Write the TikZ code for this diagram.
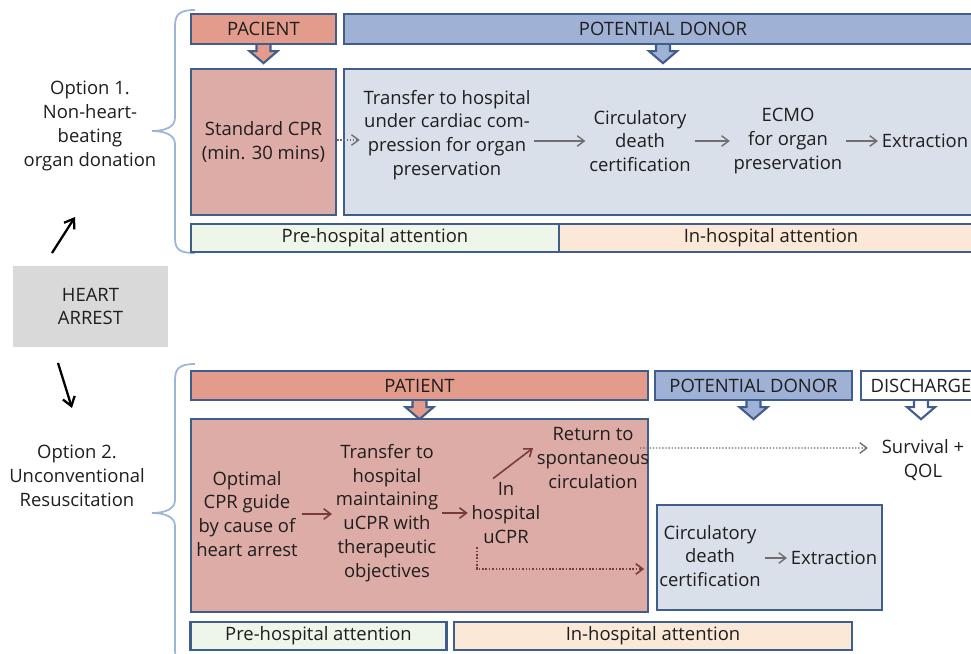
\documentclass[tikz,border=0pt]{standalone}
\usepackage{fontspec}
\setmainfont{Open Sans}
\usetikzlibrary{arrows.meta}
\definecolor{bd}{HTML}{405E8C}
\definecolor{salH}{HTML}{E39B8C}
\definecolor{pinkB}{HTML}{DEACA6}
\definecolor{bluH}{HTML}{A0B1D6}
\definecolor{bluB}{HTML}{DAE0EA}
\definecolor{preF}{HTML}{EEF5E9}
\definecolor{inF}{HTML}{FCE8D6}
\definecolor{grayB}{HTML}{D9D9D9}
\definecolor{txt}{HTML}{1E1E1E}
\definecolor{darr}{HTML}{7A3A3A}
\definecolor{garrc}{HTML}{6F6F6F}
\definecolor{brc}{HTML}{9BB5D8}
\newcommand\blockarrow[2]{%
  \path[draw=bd,line width=1.2pt,fill=#2,line join=miter]
    ([xshift=-0.14cm]#1.south) -- ++(0,6) -- ++(-7,0) -- ++(14,12) -- ++(14,-12) -- ++(-7,0) -- ++(0,-6);}
\begin{document}
\begin{tikzpicture}[x=0.02cm,y=-0.02cm,
  every node/.style={font=\fontsize{10.5}{13.6}\selectfont, text=txt, align=center, inner sep=2pt},
  hdr/.style={draw=bd, line width=1.3pt},
  boxx/.style={draw=bd, line width=1.3pt},
  garr/.style={draw=garrc, line width=0.8pt, -{Straight Barb[length=4pt,width=6pt]}},
  rarr/.style={draw=darr, line width=0.9pt, -{Straight Barb[length=4pt,width=6pt]}},
  karr/.style={draw=black, line width=1.3pt, -{Straight Barb[length=5pt,width=7pt]}},
  brace/.style={draw=brc, line width=1pt}]
\useasboundingbox (0,0) rectangle (971,653);
% ---------- Option 1 ----------
\path[brace] (195,10) .. controls (180,10) and (175,14) .. (175,26) -- (175,118)
  .. controls (175,127) and (165,131) .. (152,131) .. controls (165,131) and (175,135) .. (175,144)
  -- (175,238) .. controls (175,250) and (180,253) .. (195,253);
\node[hdr, fill=salH, minimum width=2.9cm, minimum height=0.6cm] (pac1) at (263.5,29) {PACIENT};
\node[hdr, fill=bluH, minimum width=12.76cm, minimum height=0.6cm] (pd1) at (663,29) {POTENTIAL DONOR};
\blockarrow{pac1}{salH}
\blockarrow{pd1}{bluH}
\node[boxx, fill=pinkB, minimum width=2.9cm, minimum height=2.92cm] (cpr) at (263.5,142) {Standard CPR\\(min. 30 mins)};
\node[boxx, fill=bluB, minimum width=12.76cm, minimum height=2.92cm] (pdbox1) at (663,142) {};
\node (tr1) at (447,135) {Transfer to hospital\\under cardiac com-\\pression for organ\\preservation};
\node (cd1) at (640,141) {Circulatory\\death\\certification};
\node (ecmo) at (788,141) {ECMO\\for organ\\preservation};
\node (ex1) at (925,141) {Extraction};
\draw[garr, densely dotted] (cpr.east |- 0,140) -- (tr1.west |- 0,140);
\draw[garr] (cd1.west -| tr1.east) -- (cd1.west);
\draw[garr] (cd1.east) -- (ecmo.west);
\draw[garr] (ecmo.east) -- (ex1.west);
\node[boxx, fill=preF, minimum width=7.36cm, minimum height=0.56cm] (pre1) at (375,238) {Pre-hospital attention};
\node[boxx, fill=inF, minimum width=8.48cm, minimum height=0.56cm] (in1) at (771,238) {In-hospital attention};
% ---------- left ----------
\node (opt1) at (90,126) {Option 1.\\Non-heart-\\beating\\organ donation};
\node[fill=grayB, minimum width=3.1cm, minimum height=1.62cm] (ha) at (90.5,306.5) {HEART\\ARREST};
\coordinate (a1s) at (52,253);
\coordinate (a1e) at (75,217);
\coordinate (a2s) at (58,363);
\coordinate (a2e) at (72,408);
\draw[karr] (a1s) -- (a1e);
\draw[karr] (a2s) -- (a2e);
\node (opt2) at (77,476) {Option 2.\\Unconventional\\Resuscitation};
% ---------- Option 2 ----------
\path[brace] (195,364) .. controls (180,364) and (175,368) .. (175,380) -- (175,500)
  .. controls (175,509) and (165,513) .. (152,513) .. controls (165,513) and (175,517) .. (175,526)
  -- (175,650) .. controls (175,662) and (180,665) .. (195,665);
\node[hdr, fill=salH, minimum width=9.14cm, minimum height=0.58cm] (pat2) at (419.5,385.5) {PATIENT};
\node[hdr, fill=bluH, minimum width=3.94cm, minimum height=0.58cm] (pd2) at (753.5,385.5) {POTENTIAL DONOR};
\node[hdr, fill=white, minimum width=2.4cm, minimum height=0.58cm] (dis) at (921,385.5) {DISCHARGE};
\blockarrow{pat2}{salH}
\blockarrow{pd2}{bluH}
\blockarrow{dis}{white}
\node[boxx, fill=pinkB, minimum width=9.14cm, minimum height=3.86cm] (pbox2) at (419.5,515.5) {};
\node (opt) at (247,514) {Optimal\\CPR guide\\by cause of\\heart arrest};
\node (tr2) at (387,513) {Transfer to\\hospital\\maintaining\\uCPR with\\therapeutic\\objectives};
\node (inh) at (506,513) {In\\hospital\\uCPR};
\node (ret) at (593,458) {Return to\\spontaneous\\circulation};
\node (surv) at (923,460) {Survival +\\QOL};
\node[boxx, fill=bluB, minimum width=4.5cm, minimum height=2.1cm] (cdbox) at (769.5,557.5) {};
\node (cd2) at (710,556) {Circulatory\\death\\certification};
\node (ex2) at (834,558) {Extraction};
\draw[rarr] (opt.east) -- (tr2.west |- opt.east);
\draw[rarr] (tr2.east) -- (inh.west |- tr2.east);
\draw[rarr] ([xshift=-0.26cm]inh.north) -- ([yshift=0.2cm]ret.west);
\draw[garr, densely dotted] ([xshift=-0.26cm,yshift=0.2cm]ret.east) -- ([xshift=-0.2cm]surv.west |- 0,448);
\draw[rarr, densely dotted] ([xshift=-0.58cm]inh.south) |- ([xshift=-0.1cm,yshift=-1.07cm]pbox2.east);
\draw[garr] (cd2.east |- ex2.west) -- (ex2.west);
\node[boxx, fill=preF, minimum width=5.12cm, minimum height=0.56cm] (pre2) at (318.5,636) {Pre-hospital attention};
\node[boxx, fill=inF, minimum width=7.96cm, minimum height=0.56cm] (in2) at (653,636) {In-hospital attention};
\end{tikzpicture}
\end{document}
